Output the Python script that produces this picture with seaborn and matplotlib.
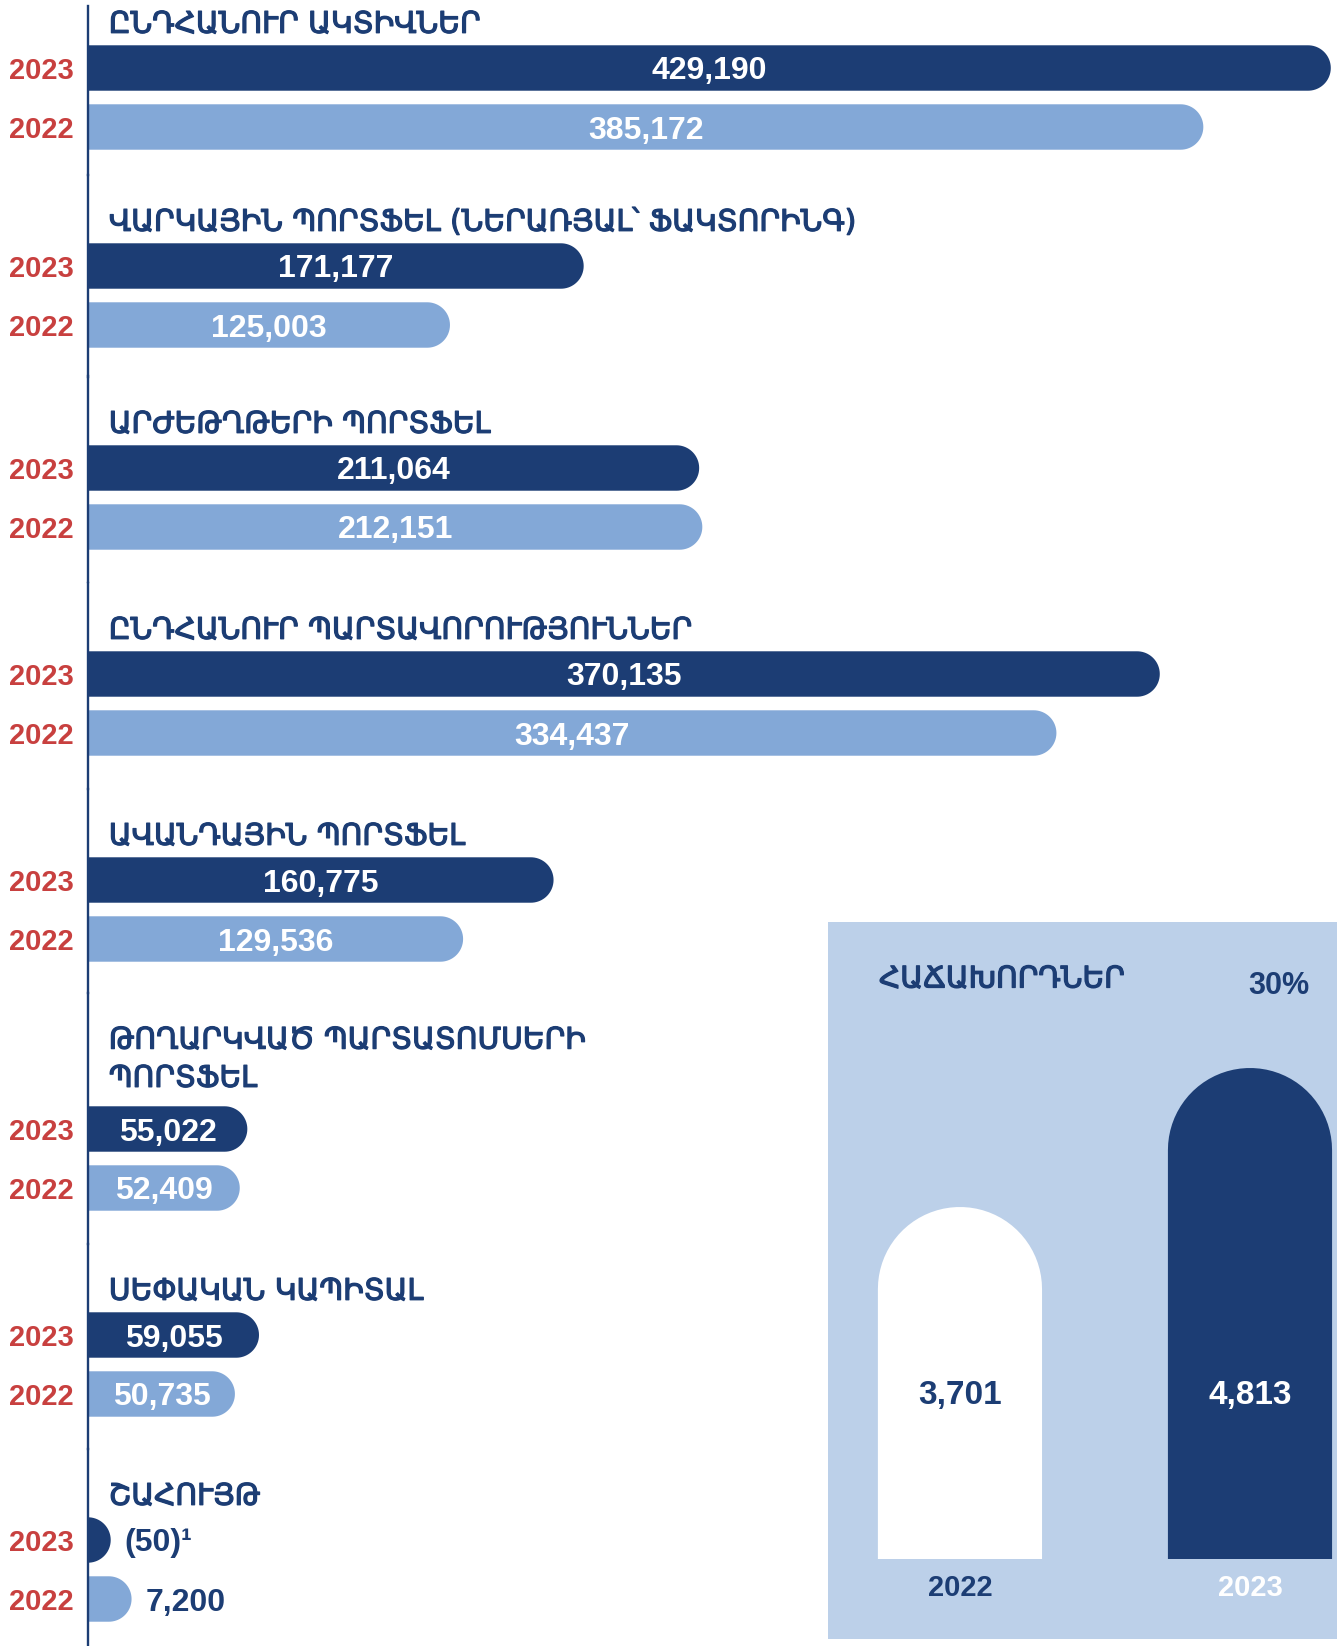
import numpy as np
import seaborn as sns
import matplotlib.pyplot as plt
import matplotlib.patheffects as pe
from matplotlib.path import Path
from matplotlib.patches import PathPatch

# data
titles = ['ԸՆԴՀԱՆՈՒՐ ԱԿՏԻՎՆԵՐ',
          'ՎԱՐԿԱՅԻՆ ՊՈՐՏՖԵԼ (ՆԵՐԱՌՅԱԼ՝ ՖԱԿՏՈՐԻՆԳ)',
          'ԱՐԺԵԹՂԹԵՐԻ ՊՈՐՏՖԵԼ',
          'ԸՆԴՀԱՆՈՒՐ ՊԱՐՏԱՎՈՐՈՒԹՅՈՒՆՆԵՐ',
          'ԱՎԱՆԴԱՅԻՆ ՊՈՐՏՖԵԼ',
          'ԹՈՂԱՐԿՎԱԾ ՊԱՐՏԱՏՈՄՍԵՐԻ\nՊՈՐՏՖԵԼ',
          'ՍԵՓԱԿԱՆ ԿԱՊԻՏԱԼ',
          'ՇԱՀՈՒՅԹ']
years = ['2023', '2022']
v2023 = [429190, 171177, 211064, 370135, 160775, 55022, 59055, -50]
v2022 = [385172, 125003, 212151, 334437, 129536, 52409, 50735, 7200]

cust_title = 'ՀԱՃԱԽՈՐԴՆԵՐ'
cust_years = ['2022', '2023']
customers = [3701, 4813]
cust_growth = '30%'

# colours
navy = '#1c3d74'
light = '#83a8d7'
red = '#c8403f'
panel_bg = '#bcd0e9'

sns.set_style('white')
plt.rcParams['font.family'] = ['Liberation Sans', 'DejaVu Sans']
arm_font = ['DejaVu Sans']
thick = [pe.withStroke(linewidth=0.9, foreground=navy)]

W, H = 1337, 1646
fig = plt.figure(figsize=(W / 100, H / 100), dpi=100)

# layout in pixels
left_px = 88
unit = 59          # px between the two bars of a group
bar_w = 0.77
centers = [68, 266, 468, 674, 880, 1129, 1335, 1540]   # 2023 bar of each group
bounds = [6]
for i in range(1, len(titles)):
    bounds.append(centers[i] - 0.5 * unit - 62 - 45 * titles[i].count('\n'))
bounds.append(H)

xmax = max(v2023 + v2022) * 1.005
px_per_x = (W - left_px) / xmax


def rounded_hbar(ax, patch):
    y0, h = patch.get_y(), patch.get_height()
    w = patch.get_width()
    r_px = h * unit / 2
    L = max(w, 0) * px_per_x
    end_px = L if L >= r_px else L + r_px
    rx = r_px / px_per_x
    xe = end_px / px_per_x
    ry = h / 2
    t = np.linspace(-np.pi / 2, np.pi / 2, 40)
    arc = np.column_stack([xe - rx + rx * np.cos(t), y0 + ry + ry * np.sin(t)])
    verts = np.vstack([[0, y0], arc, [0, y0 + h], [0, y0]])
    pp = PathPatch(Path(verts, closed=True), facecolor=patch.get_facecolor(),
                   edgecolor='none', lw=0)
    patch.remove()
    ax.add_patch(pp)
    return end_px


# customers panel (drawn first, behind)
bg = fig.add_axes([828 / W, 1 - 1639 / H, (W - 828) / W, (1639 - 922) / H])
bg.set_facecolor(panel_bg)
bg.set_xticks([])
bg.set_yticks([])
for s in bg.spines.values():
    s.set_visible(False)

pax = fig.add_axes([828 / W, 1 - 1559 / H, (W - 828) / W, (1559 - 922) / H])
pax.patch.set_alpha(0)
sns.barplot(x=cust_years, y=customers, hue=cust_years, palette=['white', navy],
            width=0.566, saturation=1, legend=False, ax=pax)
pax.set_xlim(-0.455, 1.3)
ylo, px_per_y_c = 885, 0.125
pax.set_ylim(ylo, ylo + (1559 - 922) / px_per_y_c)
px_per_xc = (W - 828) / 1.755
for p in list(pax.patches):
    x0, w, top = p.get_x(), p.get_width(), p.get_height()
    rx = w / 2
    ry = rx * px_per_xc / px_per_y_c
    t = np.linspace(np.pi, 0, 40)
    arc = np.column_stack([x0 + rx + rx * np.cos(t), top - ry + ry * np.sin(t)])
    verts = np.vstack([[x0, 0], arc, [x0 + w, 0], [x0, 0]])
    pp = PathPatch(Path(verts, closed=True), facecolor=p.get_facecolor(),
                   edgecolor='none', lw=0)
    p.remove()
    pax.add_patch(pp)
for i, v in enumerate(customers):
    pax.text(i, 0.262, f'{v:,}', transform=pax.get_xaxis_transform(),
             ha='center', va='center_baseline', fontsize=24, fontweight='bold',
             color=navy if i == 0 else 'white')
pax.set_yticks([])
pax.set_xlabel('')
pax.set_ylabel('')
pax.tick_params(axis='x', length=0, pad=11, labelsize=21)
for lab, col in zip(pax.get_xticklabels(), [navy, 'white']):
    lab.set_color(col)
    lab.set_fontweight('bold')
for s in pax.spines.values():
    s.set_visible(False)

fig.text(879 / W, 1 - 979 / H, cust_title, family=arm_font, fontsize=21.4,
         color=navy, ha='left', va='center', path_effects=thick)
fig.text(1309 / W, 1 - 986 / H, cust_growth, fontsize=22, fontweight='bold',
         color=navy, ha='right', va='center')

# grouped horizontal bars
for i, title in enumerate(titles):
    top, bot = bounds[i], bounds[i + 1]
    ax = fig.add_axes([left_px / W, 1 - bot / H, (W - left_px) / W, (bot - top) / H])
    ax.patch.set_alpha(0)
    vals = [v2023[i], v2022[i]]
    sns.barplot(x=vals, y=years, hue=years, palette=[navy, light], orient='h',
                width=bar_w, saturation=1, legend=False, ax=ax)
    ax.set_xlim(0, xmax)
    ax.set_ylim((bot - centers[i]) / unit, (top - centers[i]) / unit)
    for j, p in enumerate(sorted(ax.patches, key=lambda q: q.get_y())):
        end_px = rounded_hbar(ax, p)
        v = vals[j]
        txt = f'{v:,}' if v >= 0 else f'({-v:,})¹'
        if end_px > 120:
            ax.text(v / 2, j, txt, ha='center', va='center_baseline', fontsize=23,
                    fontweight='bold', color='white')
        else:
            ax.annotate(txt, xy=(end_px / px_per_x, j), xytext=(10, 0),
                        textcoords='offset points', ha='left', va='center_baseline',
                        fontsize=23, fontweight='bold', color=navy)
    nl = title.count('\n')
    ax.annotate(title, xy=(0, -bar_w / 2), xycoords=('axes fraction', 'data'),
                xytext=(15, 9 + 5 * nl), textcoords='offset points', ha='left',
                va='baseline', family=arm_font, fontsize=21.4, color=navy,
                linespacing=1.4, path_effects=thick)
    ax.set_xticks([])
    ax.set_xlabel('')
    ax.set_ylabel('')
    ax.tick_params(axis='y', length=0, pad=10, labelsize=21, labelcolor=red)
    for lab in ax.get_yticklabels():
        lab.set_fontweight('bold')
    for name, s in ax.spines.items():
        s.set_visible(name == 'left')
    ax.spines['left'].set_color(navy)
    ax.spines['left'].set_linewidth(1.7)

fig.savefig('out.png', dpi=100)
